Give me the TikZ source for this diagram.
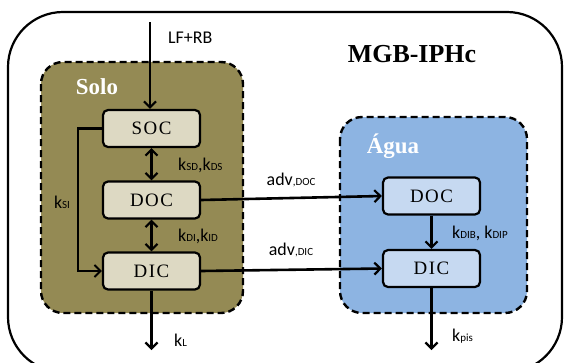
\documentclass[tikz,border=0pt]{standalone}
\usepackage{fontspec}
\setmainfont{Liberation Serif}
\newfontfamily\lblfont{Carlito}
\newfontfamily\boxfont[LetterSpace=8]{Liberation Serif}
\usetikzlibrary{arrows.meta}
\definecolor{olive}{HTML}{948A54}
\definecolor{beige}{HTML}{DDD9C3}
\definecolor{water}{HTML}{8DB4E2}
\definecolor{lightwater}{HTML}{C6D9F1}
\tikzset{
  pool/.style={draw=black, dashed, dash pattern=on 7bp off 4bp, line width=2.4bp, rounded corners=22bp},
  compbox/.style={draw=black, line width=2.2bp, rounded corners=5bp, minimum width=97bp, minimum height=37bp, inner sep=0pt, font=\boxfont\fontsize{19}{19}\selectfont},
  flow/.style={line width=2.6bp, -{Straight Barb[length=6bp,width=12bp,line width=2.2bp]}},
  biflow/.style={line width=2.6bp, {Straight Barb[length=6bp,width=12bp,line width=2.2bp]}-{Straight Barb[length=6bp,width=12bp,line width=2.2bp]}},
  lbl/.style={font=\lblfont\fontsize{18}{18}\selectfont, inner sep=0pt},
  pooltitle/.style={font=\bfseries\fontsize{23}{23}\selectfont, text=white, inner sep=0pt}
}
\newcommand{\sbs}[1]{{\fontsize{11}{11}\selectfont #1}}
\begin{document}
\begin{tikzpicture}[x=1bp, y={(0bp,-1bp)}]
\clip (0,0) rectangle (564,362);
\fill[white] (0,0) rectangle (564,362);
% outer model box
\draw[line width=2.2bp, rounded corners=55bp] (8,12) rectangle (562,372);
\node[font=\bfseries\fontsize{26}{26}\selectfont, inner sep=0pt] (mgb) at (412,54) {MGB-IPHc};
% pools
\draw[pool, fill=olive] (41,62) rectangle (243,313);
\node[pooltitle] (solo) at (97,87) {Solo};
\draw[pool, fill=water] (340,117) rectangle (527,313);
\node[pooltitle] (agua) at (393,146) {Água};
% compartments
\node[compbox, fill=beige] (soc) at (151.5,128.5) {SOC};
\node[compbox, fill=beige] (doc) at (151.5,200) {DOC};
\node[compbox, fill=beige] (dic) at (151.5,271) {DIC};
\node[compbox, fill=lightwater] (wdoc) at (431.5,196) {DOC};
\node[compbox, fill=lightwater] (wdic) at (431.5,268.5) {DIC};
% inputs / outputs
\coordinate (in) at (150,22);
\coordinate (outl) at (151.5,350);
\coordinate (outw) at (431.5,350);
\coordinate (ksibend) at (78,128.5);
\draw[flow] (in) -- (soc.north -| in);
\node[lbl, anchor=west] (lfrb) at (168,38) {LF+RB};
\draw[biflow] (soc.south) -- (doc.north);
\node[lbl, anchor=west] (ksd) at (178,165) {k\sbs{SD},k\sbs{DS}};
\draw[biflow] (doc.south) -- (dic.north);
\node[lbl, anchor=west] (kdi) at (178,236) {k\sbs{DI},k\sbs{ID}};
\draw[line width=2.2bp, -{Straight Barb[length=6bp,width=12bp,line width=2bp]}] (soc.west) -- (ksibend) |- (dic.west);
\node[lbl] (ksi) at (62,202) {k\sbs{SI}};
\draw[flow] (dic.south) -- (outl);
\node[lbl, anchor=west] (kl) at (174,340) {k\sbs{L}};
\draw[flow] (doc.east) -- (wdoc.west);
\node[lbl] (advdoc) at (291,180) {adv\sbs{,DOC}};
\draw[flow] (dic.east) -- (wdic.west);
\node[lbl] (advdic) at (291,250) {adv\sbs{,DIC}};
\draw[flow] (wdoc.south) -- (wdic.north);
\node[lbl, anchor=west] (kdib) at (452,233) {k\sbs{DIB}, k\sbs{DIP}};
\draw[flow] (wdic.south) -- (outw);
\node[lbl, anchor=west] (kpis) at (452,336) {k\sbs{pis}};
\end{tikzpicture}
\end{document}
